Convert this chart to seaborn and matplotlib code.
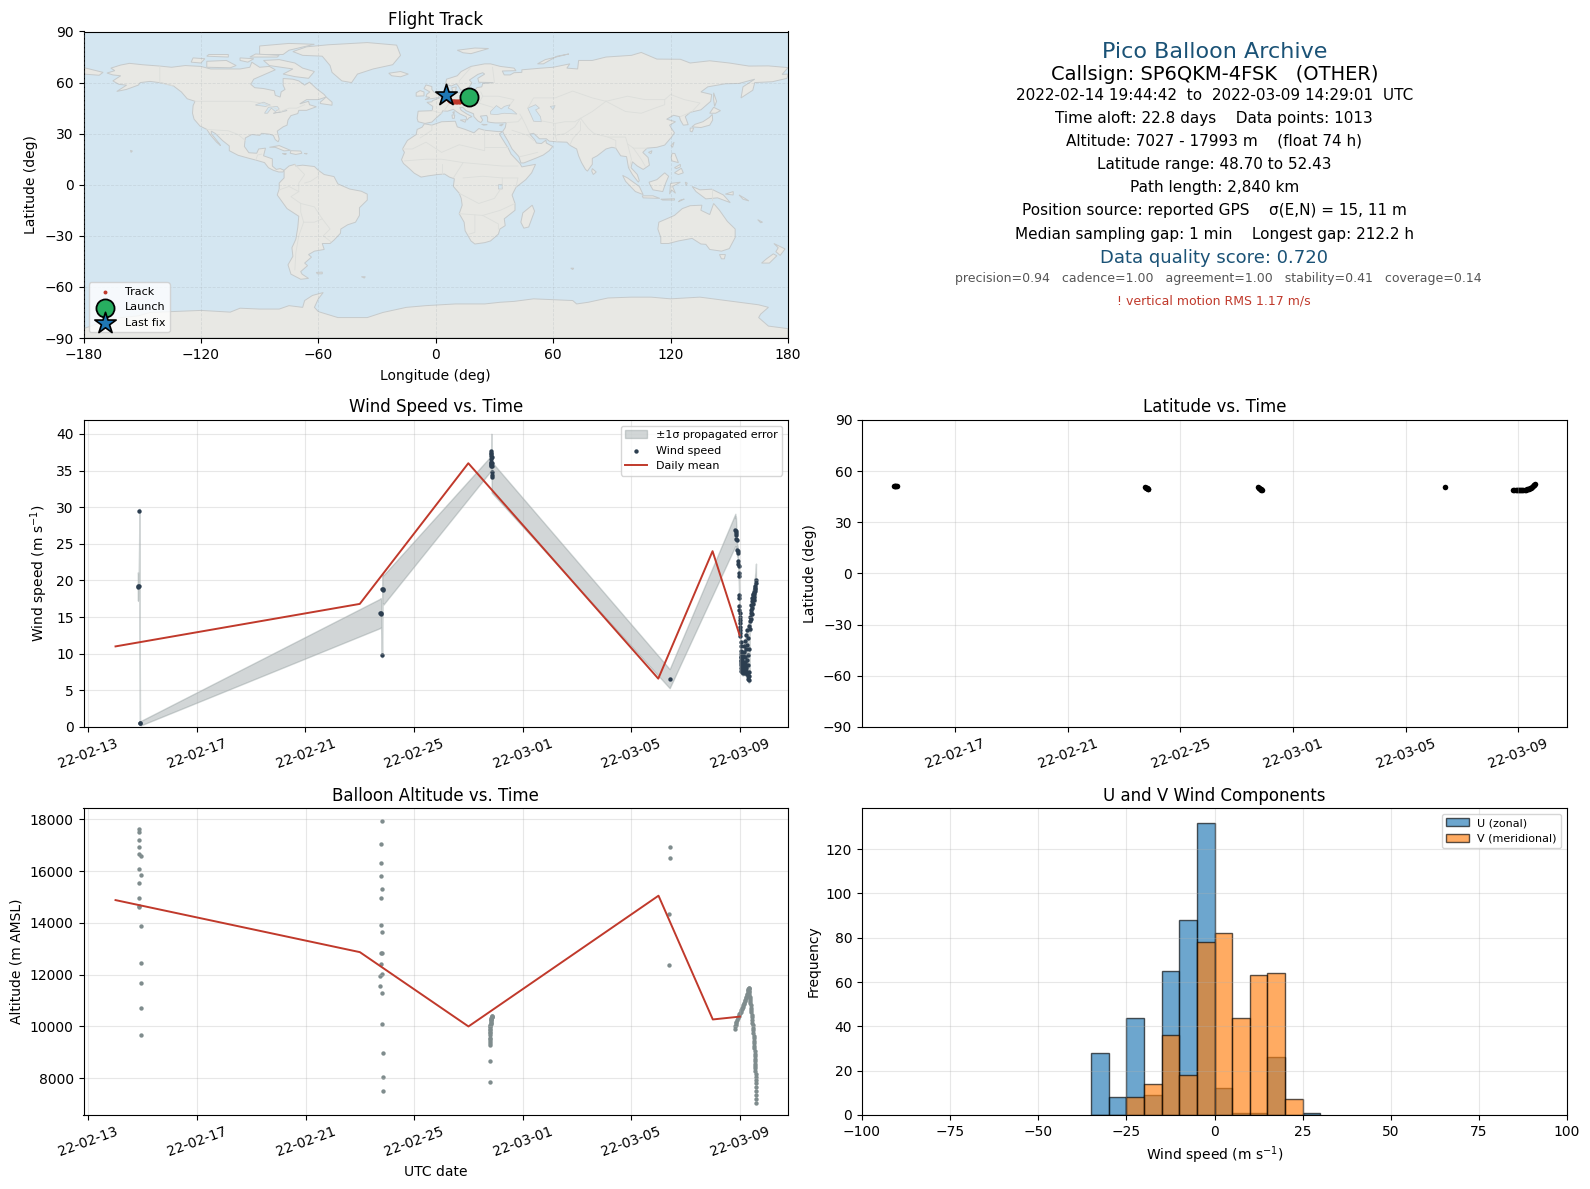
import numpy as np
import pandas as pd
import seaborn as sns
import matplotlib
matplotlib.use("Agg")
import matplotlib.pyplot as plt
import matplotlib.dates as mdates

W, H = 1590, 1189
START = pd.Timestamp("2022-02-13")

# colours
OCEAN = "#d4e6f1"
LAND = "#e8e8e4"
COAST = "#c6cacb"
BORDER = "#dcdedb"
RED = "#c0392b"
NAVY = "#2c3e50"
GREY = "#7f8c8d"
BLUE = "#1a5276"

# daily means (days after 2022-02-13)
mean_days = [1, 10, 14, 21, 23, 24]
mean_wind = [11.0, 16.8, 36.0, 6.6, 24.0, 12.5]
mean_alt = [14880, 12870, 10000, 15050, 10270, 10380]

# wind speed samples
wind_days = [1.82, 1.84, 1.86, 1.88, 1.90, 1.92,
             10.75, 10.77, 10.79, 10.82, 10.83, 10.85, 10.87,
             14.84, 14.84, 14.84, 14.845, 14.845, 14.85, 14.85, 14.85, 14.85, 14.85, 14.855, 14.855, 14.86, 14.86, 14.86, 14.86,
             21.42,
             23.84, 23.85, 23.86, 23.87, 23.88, 23.90, 23.90, 23.92, 23.93, 23.94, 23.95, 23.96, 23.97, 23.97, 23.98, 23.98,
             23.99, 23.99, 24.00, 24.00, 24.00, 24.01, 24.01, 24.02, 24.02, 24.02, 24.03, 24.03, 24.03, 24.04, 24.04, 24.04,
             24.05, 24.05, 24.05, 24.06, 24.06, 24.06, 24.07, 24.07, 24.08, 24.08, 24.09, 24.09, 24.10, 24.10, 24.11, 24.11,
             24.12, 24.13, 24.13, 24.14, 24.15, 24.15, 24.16, 24.17, 24.17, 24.18, 24.19, 24.20, 24.20, 24.21, 24.22, 24.23,
             24.24, 24.24, 24.25, 24.26, 24.27, 24.28, 24.28, 24.29, 24.30, 24.30, 24.31, 24.32, 24.33, 24.33, 24.34, 24.35,
             24.36, 24.37, 24.38, 24.39, 24.40, 24.41, 24.42, 24.43, 24.44, 24.45, 24.46, 24.47, 24.48, 24.49, 24.50, 24.51,
             24.52, 24.53, 24.54, 24.55, 24.56, 24.57, 24.58, 24.59, 24.60]
wind_speed = [19.2, 19.1, 19.3, 29.5, 0.6, 0.5,
              15.5, 15.6, 15.4, 9.8, 18.8, 18.9, 18.7,
              36.0, 36.2, 35.8, 35.6, 35.9, 36.6, 37.0, 37.4, 37.7, 37.2, 36.8, 36.0, 35.6, 34.8, 34.4, 34.1,
              6.6,
              26.9, 26.5, 26.7, 26.2, 25.6, 25.5, 24.2, 24.0, 23.8, 22.6, 22.3, 22.0, 21.0, 20.6, 18.0, 17.6,
              16.5, 16.0, 15.6, 15.0, 14.6, 14.2, 13.6, 13.3, 12.8, 12.4, 11.6, 11.0, 10.4, 10.0, 9.6, 9.2,
              8.8, 9.6, 8.4, 8.0, 9.0, 7.6, 8.4, 7.9, 9.5, 7.5, 8.5, 7.8, 9.2, 7.6, 8.8, 7.4,
              8.2, 9.8, 7.6, 8.6, 7.5, 10.2, 8.3, 7.7, 11.0, 8.9, 7.4, 9.6, 7.9, 11.8, 8.4, 7.6,
              10.6, 12.6, 8.0, 9.2, 7.2, 11.2, 13.2, 8.4, 6.9, 9.8, 6.6, 12.2, 13.8, 7.5, 6.4, 10.6,
              6.9, 14.4, 15.0, 13.4, 15.6, 16.0, 14.8, 16.6, 17.2, 15.4, 17.6, 16.2, 18.0, 16.8, 18.2, 17.4,
              17.8, 18.4, 18.2, 18.8, 18.6, 19.2, 19.0, 19.6, 20.1]
wind_sigma = [1.9, 1.9, 1.9, 0.3, 0.3, 0.3,
              2.0, 2.0, 2.0, 0.3, 2.0, 2.0, 2.0,
              1.0, 1.0, 1.0, 1.0, 1.1, 1.5, 1.9, 2.2, 2.3, 2.2, 2.0, 1.9, 1.9, 2.0, 2.1, 2.1,
              1.3,
              2.2, 2.0, 2.0, 1.8, 1.2, 1.0, 0.8, 0.8, 0.6, 0.6, 0.5, 0.5, 0.5, 0.5, 0.4, 0.4,
              0.4, 0.4, 0.4, 0.4, 0.4, 0.4, 0.4, 0.4, 0.4, 0.4, 0.4, 0.4, 0.4, 0.4, 0.4, 0.4,
              0.4, 0.4, 0.4, 0.4, 0.4, 0.4, 0.4, 0.4, 0.4, 0.4, 0.4, 0.4, 0.4, 0.4, 0.4, 0.4,
              0.4, 0.4, 0.4, 0.4, 0.4, 0.4, 0.4, 0.4, 0.4, 0.4, 0.4, 0.4, 0.4, 0.4, 0.4, 0.4,
              0.4, 0.4, 0.4, 0.4, 0.4, 0.4, 0.4, 0.4, 0.4, 0.4, 0.4, 0.4, 0.4, 0.4, 0.4, 0.4,
              0.4, 0.4, 0.4, 0.4, 0.5, 0.5, 0.5, 0.5, 0.6, 0.6, 0.7, 0.7, 0.8, 0.9, 1.0, 1.1,
              1.2, 1.3, 1.4, 1.5, 1.6, 1.7, 1.9, 2.0, 2.2]

# altitude samples
alt_days = [1.88, 1.85, 1.85, 1.85, 1.85, 1.92, 1.85, 1.92, 1.85, 1.85, 1.88, 1.85, 1.92, 1.92, 1.92, 1.92, 1.92,
            10.82, 10.78, 10.78, 10.78, 10.82, 10.78, 10.78, 10.82, 10.78, 10.82, 10.78, 10.82, 10.75, 10.75, 10.82, 10.82, 10.86, 10.86, 10.86,
            14.79, 14.79, 14.79, 14.79, 14.79, 14.79, 14.80, 14.80, 14.80, 14.80, 14.81, 14.81, 14.81, 14.81, 14.81, 14.82, 14.82, 14.82, 14.83, 14.83, 14.84, 14.84, 14.85, 14.85, 14.86, 14.86,
            21.42, 21.42, 21.40, 21.38,
            23.83, 23.83, 23.84, 23.85, 23.87, 23.89, 23.91, 23.93, 23.95, 23.98, 24.00, 24.02, 24.04, 24.06, 24.08, 24.10, 24.12, 24.14, 24.16, 24.18, 24.20,
            24.22, 24.24, 24.26, 24.27, 24.28, 24.29, 24.30, 24.31, 24.32, 24.33, 24.33, 24.34, 24.34, 24.35, 24.35, 24.36, 24.36, 24.37, 24.38, 24.39, 24.40,
            24.41, 24.42, 24.43, 24.44, 24.45, 24.46, 24.47, 24.48, 24.48, 24.49, 24.50, 24.50, 24.51, 24.52, 24.52, 24.53, 24.54, 24.54, 24.55, 24.55, 24.56,
            24.56, 24.57, 24.57, 24.57, 24.58, 24.58, 24.58, 24.58, 24.59, 24.59, 24.59, 24.59, 24.59]
alt_m = [17626, 17497, 17187, 16916, 16646, 16568, 16065, 15832, 15523, 14943, 14658, 14632, 13897, 12466, 11692, 10724, 9679,
         17923, 17032, 16297, 15794, 15290, 14943, 13936, 13665, 12853, 12853, 12427, 12040, 11963, 11575, 11305, 10105, 8983, 8054, 7512,
         7845, 8667, 9300, 9370, 9440, 9510, 9570, 9680, 9740, 9800, 9860, 9910, 9960, 10000, 10050, 10100, 10150, 10190, 10230, 10260, 10290, 10320, 10350, 10375, 10400, 10418,
         16920, 16500, 14350, 12360,
         9920, 10000, 10060, 10120, 10190, 10250, 10310, 10360, 10410, 10470, 10520, 10570, 10620, 10670, 10720, 10760, 10810, 10870, 10920, 10980, 11030,
         11090, 11150, 11210, 11260, 11300, 11350, 11390, 11430, 11470, 11500, 11440, 11380, 11320, 11260, 11190, 11120, 11050, 10980, 10900, 10820, 10730,
         10640, 10550, 10450, 10350, 10250, 10150, 10050, 9950, 9850, 9750, 9650, 9550, 9450, 9350, 9250, 9150, 9050, 8950, 8850, 8750, 8650,
         8560, 8470, 8380, 8280, 8157, 8050, 7940, 7830, 7670, 7520, 7370, 7215, 7046]

# latitude samples
lat_days = [1.82, 1.85, 1.87, 1.89, 1.92,
            10.75, 10.78, 10.80, 10.82, 10.84, 10.86,
            14.75, 14.78, 14.80, 14.82, 14.85, 14.87, 14.90,
            21.42,
            23.83, 23.87, 23.91, 23.95, 23.99, 24.03, 24.07, 24.11, 24.15, 24.19, 24.23, 24.27, 24.31, 24.35, 24.39, 24.43, 24.47, 24.50, 24.53, 24.56, 24.58, 24.60]
lat_deg = [51.2, 51.3, 51.1, 51.2, 51.1,
           50.5, 50.3, 50.0, 49.9, 49.7, 49.5,
           50.6, 50.3, 50.0, 49.6, 49.3, 49.0, 48.8,
           51.0,
           49.0, 48.9, 48.8, 48.7, 48.7, 48.8, 48.7, 48.8, 48.8, 48.9, 49.0, 49.1, 49.3, 49.5, 49.7, 50.0, 50.3, 50.7, 51.1, 51.6, 52.0, 52.43]

# flight track
track_lon = [17.0, 16.2, 15.2, 14.2, 13.4, 12.6, 11.8, 11.0, 10.2, 9.4, 8.6, 7.8, 7.2, 6.6, 6.0, 5.4]
track_lat = [51.4, 50.8, 50.0, 49.5, 49.1, 48.8, 48.7, 48.7, 48.7, 48.8, 48.7, 48.9, 49.3, 50.2, 51.3, 52.43]

# histogram of wind components
bin_edges = [-35, -30, -25, -20, -15, -10, -5, 0, 5, 10, 15, 20, 25, 30]
u_counts = [28, 8, 44, 9, 65, 88, 132, 12, 1, 1, 26, 0, 1]
v_counts = [0, 0, 8, 14, 36, 18, 78, 82, 44, 63, 64, 7, 0]

# coarse world map, lon/lat outlines
land_outlines = [
    # North America
    [(-168, 65.6), (-164, 67), (-166, 68.5), (-161, 70.3), (-156.5, 71.3), (-150, 70.5), (-141, 69.7), (-135, 69), (-128, 70), (-120, 69.5), (-115, 68), (-108, 68), (-100, 68), (-95, 69), (-94, 72), (-90, 69), (-85, 69.5), (-82, 67.5), (-87, 65), (-93, 62), (-94.5, 59), (-92.5, 57), (-88, 56.5), (-82.5, 55.2), (-82, 52.5), (-79.5, 51.5), (-79, 54.5), (-77, 56), (-78, 58.5), (-78, 62.4), (-73, 62), (-70, 61), (-67, 58.5), (-64.5, 60.3), (-61, 56.5), (-57, 53), (-56, 51.5), (-60, 50), (-66, 50), (-69.5, 47.5), (-65, 49), (-64.5, 47), (-61, 45.8), (-66, 43.7), (-70, 43.7), (-70.5, 41.8), (-74, 40.6), (-75.5, 38), (-76, 35), (-78, 34), (-81, 31.5), (-80, 26.8), (-80.5, 25.2), (-82, 26.5), (-83, 29), (-85, 29.7), (-89, 30.2), (-90, 29), (-94, 29.5), (-97.3, 27.5), (-97.8, 22.5), (-95.5, 18.8), (-91.5, 18.5), (-90.5, 21), (-87, 21.5), (-88, 17), (-83.5, 15.2), (-83.5, 11), (-81.5, 9), (-79.5, 9.5), (-77.5, 8.5), (-78, 7.5), (-80.3, 7.5), (-83, 8.5), (-85.5, 10), (-87.5, 13), (-92, 14.5), (-96, 15.7), (-101, 17.3), (-105.5, 20), (-105.5, 22.8), (-109, 26), (-112.5, 30), (-114.7, 31.5), (-114.7, 30), (-110.5, 24), (-110, 23), (-112, 25), (-115, 29), (-117, 32.5), (-120.5, 34.5), (-123.5, 38.5), (-124.3, 42), (-124, 46.5), (-123, 49), (-127, 50.5), (-130, 54.5), (-134, 58), (-140, 59.8), (-146, 60.7), (-151, 60), (-152, 58.5), (-158, 56), (-163, 54.8), (-158, 58.5), (-162, 59), (-165, 61), (-161, 64), (-165, 64.5)],
    # Greenland
    [(-73, 78.2), (-66, 81), (-55, 82.2), (-35, 83.5), (-20, 82), (-18, 76), (-22, 70.5), (-32, 68), (-40, 65), (-43, 60), (-48, 61), (-53, 66), (-54, 70), (-58, 75.5), (-68, 76)],
    # Canadian islands
    [(-80, 73.5), (-72, 71.5), (-68, 68.5), (-62, 66.5), (-65, 62.5), (-72, 63.5), (-78, 65), (-73, 68), (-85, 70), (-88, 73)],
    [(-90, 76.5), (-78, 76.5), (-75, 79), (-62, 82.5), (-75, 83), (-90, 81.5)],
    [(-117, 69), (-105, 68.7), (-102, 70), (-107, 73), (-117, 72.5)],
    [(-125, 72), (-120, 71.5), (-118, 74), (-124, 74.5)],
    [(-95, 75), (-81, 75), (-80, 76), (-92, 76.8)],
    [(-117, 75.5), (-106, 75), (-106, 76.5), (-116, 76.5)],
    [(-100, 73), (-96, 72), (-93, 74), (-100, 74.5)],
    [(-59, 47.7), (-53, 46.7), (-53, 48.5), (-56, 51.5), (-59, 48.5)],
    [(-85, 22), (-80, 23), (-74.2, 20.2), (-77.5, 19.9), (-82, 22)],
    [(-74.4, 18.5), (-74, 20), (-69, 19.8), (-68.4, 18.5), (-71.5, 17.8)],
    [(-78.3, 18.3), (-76.3, 18.2), (-77, 17.8)],
    [(-67.2, 18.4), (-65.7, 18.4), (-66, 18)],
    [(-156, 20.2), (-155, 19.8), (-155.7, 19)],
    # South America
    [(-77.5, 8.5), (-75, 11), (-72, 12), (-71.5, 11), (-68, 11.5), (-62, 10.7), (-60, 8.5), (-57, 6), (-52, 4.8), (-50, 0.5), (-44, -2.5), (-38, -3.8), (-35, -5.5), (-35, -9), (-39, -13.5), (-39, -18), (-41, -22), (-45, -23.5), (-48.5, -26), (-48.7, -28.5), (-52, -32.5), (-54, -34.5), (-58, -34.5), (-57, -38), (-62, -39), (-65, -41), (-63.5, -42.5), (-67, -46), (-65.5, -47.5), (-69, -51), (-68.3, -52.5), (-65, -55), (-69, -55.5), (-74, -52.5), (-75.5, -47), (-73, -42), (-73.5, -37), (-71.5, -32), (-70.5, -25), (-70, -18.5), (-76, -14), (-81, -6), (-80, -2.5), (-80, 1), (-77.5, 4), (-77.5, 7)],
    [(-61, -51.5), (-58, -51.3), (-58, -52.3), (-60.5, -52.3)],
    [(-38, -54), (-36, -54), (-36.5, -54.8)],
    # Africa
    [(-5.8, 35.8), (-2, 35), (3, 37), (10, 37.3), (11, 34), (15, 32.5), (19.5, 30.5), (22, 33), (25, 32), (32, 31.2), (34.2, 31.3), (32.5, 29.8), (34, 27), (37, 21.5), (38.5, 18), (43, 12.5), (44, 10.5), (51, 12), (49, 7), (46, 3), (41, -1.5), (39, -6), (40.5, -11), (40.5, -15), (35, -20), (35.5, -24), (32.8, -26), (32, -29), (28, -33), (25, -34), (20, -34.8), (18, -33), (15, -27), (14.5, -22), (12, -17), (13.5, -12), (13, -8), (12, -5), (9, -1), (9.5, 3.5), (7, 4.5), (4.5, 6.3), (1, 6), (-4, 5.2), (-7.5, 4.5), (-11, 6.8), (-13.5, 9.5), (-16.5, 12.5), (-17.5, 14.7), (-16, 19), (-17, 21), (-14.5, 26), (-10, 29.5), (-9.5, 32.5), (-7, 33.8)],
    [(49.3, -12), (50.5, -15.5), (47.5, -24.8), (45, -25.5), (43.5, -22), (44.5, -16.5)],
    # Eurasia
    [(-9, 37), (-5.5, 36), (-2, 36.8), (0, 39), (3, 42), (3.5, 43.4), (6, 43.2), (9, 44.3), (10.5, 43), (12.5, 41.5), (15.5, 40), (16, 38), (17, 39.3), (18.5, 40), (16, 41.5), (13, 43.7), (12.3, 45.4), (13.8, 45.5), (15.5, 43.5), (19.3, 41.7), (19.5, 40), (21.5, 37.5), (23, 36.5), (24, 38), (22.8, 40.3), (26, 40.7), (26.5, 39.5), (26.5, 37), (28, 36.6), (30.5, 36.3), (34, 36.3), (36, 36.5), (35.5, 33.5), (34.2, 31.3), (34.9, 29.5), (37, 25.5), (39, 21), (42.5, 16.5), (43.5, 12.8), (45, 12.8), (52, 16), (55, 17.5), (58, 20), (59.8, 22.5), (56.5, 24.5), (56.3, 26.2), (54, 24.2), (51.5, 24.5), (50.5, 26.5), (48, 29.8), (50, 30.2), (53, 27), (56.5, 27), (58, 25.6), (62, 25.2), (67, 25), (68.5, 23.2), (72, 21), (73, 17), (74.5, 13), (76.5, 9), (77.5, 8), (80, 12), (80, 15.5), (82.5, 17), (87, 21), (90, 22), (92, 21.5), (94.5, 17), (97.5, 16.5), (98.5, 10), (100.5, 6), (103.5, 1.5), (104, 2.5), (103, 6), (99.8, 10), (100.5, 13.5), (103, 11), (106, 9), (109.2, 11.5), (108.5, 16), (105.8, 19), (108, 21.5), (113, 22), (117, 23.3), (120.5, 28), (122, 30.5), (120.5, 33), (119.5, 35), (122.5, 37), (118, 38.5), (121.5, 40.8), (124.5, 40), (125, 38), (126.5, 35), (129, 35.3), (128, 38.5), (127.5, 40), (130, 42.5), (135.5, 44), (140.5, 49), (141, 53), (135.5, 54.5), (139, 57.5), (148, 59.3), (155, 59.5), (163, 62), (157, 57.5), (156, 51), (162, 55.5), (163, 60), (172, 60.5), (179.5, 62.5), (180, 65), (177, 64.8), (180, 68.8), (170, 69.8), (160, 69.7), (150, 71.5), (140, 72.8), (130, 71.5), (125, 73.7), (113, 73.8), (105, 77.7), (100, 76), (87, 75), (80, 73), (73, 73), (72.5, 68), (67, 68.5), (68.5, 71), (60, 69), (54, 68.5), (44, 67.5), (44, 66), (40, 65.8), (38, 64.5), (35, 64.5), (34, 66.8), (41, 67), (40, 68.5), (33, 69.5), (28, 71), (25, 71), (18, 69.5), (13, 66.5), (11, 64), (5.5, 62), (5, 59), (8, 58), (10.5, 59.3), (11.5, 58), (12.8, 55.5), (14.5, 55.8), (16.5, 56.5), (18.5, 59.8), (17.2, 61.5), (21.5, 64.8), (24, 65.8), (25, 65), (21.5, 62.5), (22, 60.2), (29.5, 60), (24, 59.4), (23.5, 57.5), (21, 57), (19.5, 54.5), (14.5, 54), (10, 54), (10.5, 57.5), (8.2, 57), (8.7, 54), (7, 53.5), (4, 52), (1.6, 50.8), (-1.5, 49.5), (-2, 48.7), (-4.5, 48.4), (-1.5, 46), (-1.8, 43.5), (-9, 43.2), (-9.5, 39)],
    [(-180, 65), (-172, 64.3), (-170, 66), (-177, 68), (-180, 68.8)],
    # European and Asian islands
    [(-5.5, 50), (1.5, 51.2), (1.7, 52.8), (-1, 54.5), (-2, 56), (-2, 57.7), (-5, 58.6), (-6, 56.5), (-3, 54.5), (-4.5, 53.2), (-5, 51.7), (-3, 51.3)],
    [(-10, 52), (-6, 52.2), (-6, 54.5), (-8, 55.3), (-10, 54)],
    [(-24, 65.5), (-18, 66.5), (-14, 65), (-18, 63.4), (-22.5, 64)],
    [(11, 79), (20, 80.3), (27, 80), (18, 77), (14, 77.5)],
    [(52, 71), (56, 73.5), (68, 76.8), (62, 75.5), (55, 71)],
    [(12.5, 38), (15.5, 38.2), (15, 36.7)],
    [(8.3, 41), (9.7, 41), (9.5, 39), (8.5, 39)],
    [(8.7, 42.5), (9.5, 43), (9.3, 41.5)],
    [(23.5, 35.5), (26.3, 35.3), (24.5, 35)],
    [(32.5, 35), (34.5, 35.6), (33.5, 34.6)],
    [(142, 54), (143.5, 49), (142.5, 46), (142, 50)],
    [(130.9, 34), (135.5, 33.6), (140, 35), (141.5, 38), (141.3, 41.3), (139.8, 39.5), (136.5, 37), (132.5, 35.5)],
    [(140, 42), (143, 42), (145.5, 43.5), (142, 45.5)],
    [(130, 33.3), (131.8, 33.3), (131, 31), (130, 31.5)],
    [(80, 9.5), (82, 7.5), (80.5, 6), (79.7, 8)],
    [(120.2, 23), (121.8, 25), (121, 22)],
    [(108.7, 19), (110.5, 20), (110, 18.3)],
    [(95.5, 5.5), (98, 4), (104, -1), (106, -5.8), (102, -4), (97, 2)],
    [(109, 1.5), (113, 3), (117, 7), (119, 5), (117.5, 1), (116, -4), (111, -3), (109.5, 0)],
    [(105.5, -6.5), (111, -6.5), (114.5, -8), (106, -7.7)],
    [(119.5, -5.5), (120, 0.8), (125, 1.5), (121, -1), (122.5, -5), (120.5, -3)],
    [(131, -1), (135, -3), (141, -2.6), (147, -6), (150.5, -10.5), (144, -7.7), (138, -8.3), (133, -4)],
    [(120.3, 16), (120.8, 18.5), (122.2, 18.3), (124, 13), (120.7, 14)],
    [(122, 7), (125.5, 9.7), (126.5, 7), (124, 6)],
    [(122, 10), (125, 12), (125, 10.5), (123, 9.5)],
    [(124, -10), (127, -8.4), (125, -9)],
    [(115, -8.5), (122, -8.2), (122, -9), (116, -9)],
    [(127.5, 1.5), (128.5, 1), (128, -0.5)],
    [(148, -5.5), (152, -4), (152, -6)],
    [(155, -6), (158, -8), (160, -9.5), (157, -8.5)],
    # Australia and New Zealand
    [(114, -22), (122, -18), (126, -14), (130, -12.3), (136, -12), (135.5, -15), (140, -17.5), (142, -11), (145, -15), (149, -21.5), (153, -26), (153, -31), (150, -37.5), (146, -39), (140, -38), (138, -35), (135.5, -34.8), (131, -31.5), (124, -33), (119, -34.5), (115, -34.5), (115, -31), (113.5, -26)],
    [(145, -41), (148, -41), (147.5, -43.5), (146, -43.5)],
    [(172.8, -34.5), (178.5, -37.7), (176, -41.5), (173.8, -39.3), (175, -37)],
    [(172.5, -40.6), (174.3, -41.7), (170.5, -46), (166.5, -46), (169, -43.5)],
    [(69, -49), (70.5, -49), (70, -49.8)],
    [(164.5, -20.5), (167, -22), (166, -22.3)],
    # Antarctica
    [(-180, -84.5), (-165, -78.5), (-152, -77), (-146, -75), (-135, -74.5), (-120, -73.8), (-105, -74.8), (-100, -72.5), (-90, -73), (-80, -73), (-75, -71), (-68, -72), (-67, -68), (-63, -65), (-57.5, -63.3), (-60, -67), (-62, -72), (-60, -74.5), (-50, -78), (-35, -78), (-27, -75), (-15, -72), (-5, -71), (10, -70), (25, -70), (33, -69), (40, -68.5), (50, -67), (60, -67.5), (70, -68), (72, -70), (78, -69), (88, -66.5), (100, -66), (110, -66), (120, -67), (135, -66), (145, -67.5), (155, -69), (165, -70.5), (170, -72), (166, -76), (165, -78), (170, -83), (180, -84.5), (180, -90), (-180, -90)],
]
water_outlines = [
    [(28, 41.5), (31, 41.2), (35, 42), (41.5, 41.5), (39, 44), (37, 45), (38, 47), (35, 46), (33.5, 44.5), (31, 46.5), (28, 43)],
    [(47, 45), (51, 47), (53, 45), (51, 44), (53.5, 40), (54, 37), (50, 37.3), (49, 40)],
    [(-92, 47), (-88, 48.5), (-84.5, 46.8), (-87, 46), (-92, 46.7)],
    [(-87.5, 42), (-85.5, 45.5), (-81, 46), (-80, 44.5), (-82, 43), (-84, 45), (-86, 42)],
    [(-83, 42), (-79, 43), (-76.5, 44), (-76, 43.5), (-79.5, 42.5)],
    [(58.5, 46), (61, 46.5), (60, 44)],
    [(32, 0), (34, 0.3), (34, -2.5), (32, -2.5)],
]
border_lines = [
    [(-123, 49), (-95, 49), (-89, 48), (-84, 46), (-79, 43), (-75, 45), (-71, 45), (-67, 47)],
    [(-141, 69.7), (-141, 60), (-134, 58)],
    [(-117, 32.5), (-106, 31.7), (-101, 29.5), (-97.3, 26)],
    [(-92, 14.5), (-91, 17.5), (-89, 18)],
    [(-72, 12), (-67, 6), (-70, 1), (-70, -4), (-74, -7), (-69, -11), (-69, -16), (-67.5, -22), (-70, -30), (-71.5, -40), (-72, -50)],
    [(-60, 8.5), (-60, 5), (-64, 2), (-67, 1)],
    [(-80, -3), (-75, -1), (-70, -4)],
    [(-69, -11), (-62, -13), (-58, -20), (-54, -26), (-57.5, -30), (-53.5, -33.5)],
    [(-67.5, -22), (-62, -22), (-58, -20)],
    [(-8, 27.5), (-2, 32), (-2, 35)],
    [(-17, 21), (-12, 21), (-5, 25), (3, 19), (12, 23.5), (25, 20), (25, 32)],
    [(25, 22), (37, 22)],
    [(-16, 14), (-5, 15), (3, 15), (14, 13), (24, 12), (34, 11), (42, 11)],
    [(3, 12), (3, 6.3)],
    [(9, 4), (14, 13)],
    [(14, 4), (24, 5), (34, 4), (42, 4), (41, -1.5)],
    [(12, -5), (22, -11), (30, -8), (34, -1), (34, 4)],
    [(12, -17), (24, -18), (33, -15), (40.5, -11)],
    [(20, -18), (20, -28), (17, -29)],
    [(24, -18), (32, -23), (32, -26)],
    [(4, 43), (7, 48), (8, 54)],
    [(-1.8, 43.5), (3, 42)],
    [(8, 47.5), (13, 48), (17, 48), (22, 48), (24, 52), (23, 54.5)],
    [(14.5, 54), (15, 51), (17, 48)],
    [(22, 48), (29, 45.5)],
    [(24, 52), (32, 52), (40, 50), (38, 47)],
    [(30, 60), (29, 69)],
    [(18, 69), (12, 61), (12, 59)],
    [(47, 45), (50, 51), (61, 51), (70, 55), (80, 51), (87, 49)],
    [(87, 49), (98, 52), (107, 50), (117, 50), (120, 53), (127, 50), (135, 48), (131, 43)],
    [(87, 49), (97, 43), (105, 42), (112, 45), (117, 47), (117, 50)],
    [(87, 49), (80, 43), (74, 39), (78, 33), (81, 30), (88, 28), (97, 28), (98, 24), (101, 21.5), (108, 21.5)],
    [(74, 39), (71, 34), (66, 30), (61, 29), (62, 25.2)],
    [(74, 37), (74, 32), (70, 27), (68.5, 23.2)],
    [(61, 36), (66, 37), (71, 37), (74, 39)],
    [(54, 37.5), (61, 36), (61, 29)],
    [(44, 39.5), (46, 35), (48, 30)],
    [(36, 36.5), (42, 37), (44, 39.5), (43, 41.5)],
    [(39, 32), (47, 29), (50, 26)],
    [(52, 19), (45, 17), (43, 16.5)],
    [(98, 24), (100, 15), (99, 10)],
    [(101, 21.5), (105, 15), (107, 11)],
    [(88, 28), (92, 26), (92, 21.5)],
    [(125, 40), (130, 42.5)],
    [(141, -2.6), (141, -9)],
]


def panel(left, top, right, bottom):
    return fig.add_axes([left / W, 1 - bottom / H, (right - left) / W, (bottom - top) / H])


def to_dates(days):
    return START + pd.to_timedelta(np.array(days, dtype=float), unit="D")


def date_axis(ax):
    ax.xaxis.set_major_locator(mdates.DayLocator(bymonthday=[1, 5, 9, 13, 17, 21, 25]))
    ax.xaxis.set_major_formatter(mdates.DateFormatter("%y-%m-%d"))
    ax.tick_params(axis="x", labelrotation=20)
    ax.grid(True, alpha=0.3)
    ax.set_xlabel("")


fig = plt.figure(figsize=(W / 100, H / 100), dpi=100)

# flight track map
ax = panel(83.5, 31.5, 788, 338)
ax.set_facecolor(OCEAN)
for outline in land_outlines:
    ax.fill(*zip(*outline), facecolor=LAND, edgecolor=COAST, linewidth=0.7, zorder=1)
for outline in water_outlines:
    ax.fill(*zip(*outline), facecolor=OCEAN, edgecolor=COAST, linewidth=0.5, zorder=1.1)
for line in border_lines:
    ax.plot(*zip(*line), color=BORDER, linewidth=0.6, zorder=1.2)
ax.grid(True, linestyle="--", linewidth=0.6, color="#a0a8ac", alpha=0.25, zorder=1.3)
ax.set_axisbelow(False)
sns.lineplot(x=track_lon, y=track_lat, sort=False, estimator=None, color=RED, linewidth=3.5, ax=ax, zorder=3)
sns.scatterplot(x=track_lon, y=track_lat, s=8, color=RED, linewidth=0, label="Track", ax=ax, zorder=3)
sns.scatterplot(x=track_lon[:1], y=track_lat[:1], s=170, color="#27ae60", marker="o", edgecolor="black", linewidth=1.3, label="Launch", ax=ax, zorder=5)
sns.scatterplot(x=track_lon[-1:], y=track_lat[-1:], s=260, color="#1f77b4", marker="*", edgecolor="black", linewidth=1.2, label="Last fix", ax=ax, zorder=6)
ax.set_xlim(-180, 180)
ax.set_ylim(-90, 90)
ax.set_xticks(range(-180, 181, 60))
ax.set_yticks(range(-90, 91, 30))
ax.set_xlabel("Longitude (deg)", labelpad=5.5)
ax.set_ylabel("Latitude (deg)", labelpad=5)
ax.set_title("Flight Track", fontsize=12, pad=5)
ax.legend(loc="lower left", fontsize=8)

# summary text
cx = 1214.5
summary = [
    (52.5, cx, "Pico Balloon Archive", 16, BLUE),
    (75, cx, "Callsign: SP6QKM-4FSK   (OTHER)", 14, "black"),
    (96, cx, "2022-02-14 19:44:42  to  2022-03-09 14:29:01  UTC", 11, "black"),
    (118.5, cx - 1, "Time aloft: 22.8 days    Data points: 1013", 11, "black"),
    (141.5, cx, "Altitude: 7027 - 17993 m    (float 74 h)", 11, "black"),
    (164.5, cx, "Latitude range: 48.70 to 52.43", 11, "black"),
    (187.5, cx, "Path length: 2,840 km", 11, "black"),
    (211, cx, "Position source: reported GPS    \u03c3(E,N) = 15, 11 m", 11, "black"),
    (234.5, cx, "Median sampling gap: 1 min    Longest gap: 212.2 h", 11, "black"),
    (258, cx, "Data quality score: 0.720", 13, BLUE),
    (278.5, cx + 4, "precision=0.94   cadence=1.00   agreement=1.00   stability=0.41   coverage=0.14", 9, "#555555"),
    (300.5, cx - 1, "! vertical motion RMS 1.17 m/s", 9, RED),
]
for y_px, x_px, text, size, colour in summary:
    fig.text(x_px / W, 1 - y_px / H, text, fontsize=size, color=colour, ha="center", va="center")

# wind speed
ax = panel(83.5, 420, 788, 727)
wind_t = to_dates(wind_days)
speed = np.array(wind_speed)
sigma = np.array(wind_sigma)
ax.fill_between(wind_t, speed - sigma, speed + sigma, color=GREY, alpha=0.35, linewidth=1, label="\u00b11\u03c3 propagated error")
sns.scatterplot(x=wind_t, y=speed, s=10, color=NAVY, linewidth=0, label="Wind speed", ax=ax)
sns.lineplot(x=to_dates(mean_days), y=mean_wind, color=RED, linewidth=1.4, label="Daily mean", ax=ax)
date_axis(ax)
ax.set_ylim(0, 41.9)
ax.set_ylabel("Wind speed (m s$^{-1}$)", labelpad=4.4)
ax.set_title("Wind Speed vs. Time", fontsize=12)
ax.legend(loc="upper right", fontsize=8)

# latitude
ax = panel(862, 420, 1567, 727)
sns.scatterplot(x=to_dates(lat_days), y=lat_deg, s=16, color="black", linewidth=0, ax=ax)
date_axis(ax)
ax.set_ylim(-90, 90)
ax.set_yticks(range(-90, 91, 30))
ax.set_ylabel("Latitude (deg)")
ax.set_title("Latitude vs. Time", fontsize=12)

# altitude
ax = panel(83.5, 808, 788, 1115)
sns.scatterplot(x=to_dates(alt_days), y=alt_m, s=10, color=GREY, linewidth=0, ax=ax)
sns.lineplot(x=to_dates(mean_days), y=mean_alt, color=RED, linewidth=1.4, ax=ax)
date_axis(ax)
ax.set_ylim(6580, 18437)
ax.set_xlabel("UTC date")
ax.set_ylabel("Altitude (m AMSL)", labelpad=4.4)
ax.set_title("Balloon Altitude vs. Time", fontsize=12, pad=5)

# U and V histogram
ax = panel(862, 808, 1567, 1115)
centers = (np.array(bin_edges[:-1]) + np.array(bin_edges[1:])) / 2
sns.histplot(x=centers, weights=u_counts, bins=bin_edges, color="#1f77b4", alpha=0.65, edgecolor=(0, 0, 0, 0.65), linewidth=1, label="U (zonal)", ax=ax)
sns.histplot(x=centers, weights=v_counts, bins=bin_edges, color="#ff7f0e", alpha=0.65, edgecolor=(0, 0, 0, 0.65), linewidth=1, label="V (meridional)", ax=ax)
ax.set_xlim(-100, 100)
ax.grid(True, alpha=0.3)
ax.set_xlabel("Wind speed (m s$^{-1}$)")
ax.set_ylabel("Frequency")
ax.set_title("U and V Wind Components", fontsize=12, pad=5)
ax.legend(loc="upper right", fontsize=8)

fig.savefig("out.png", dpi=100)
